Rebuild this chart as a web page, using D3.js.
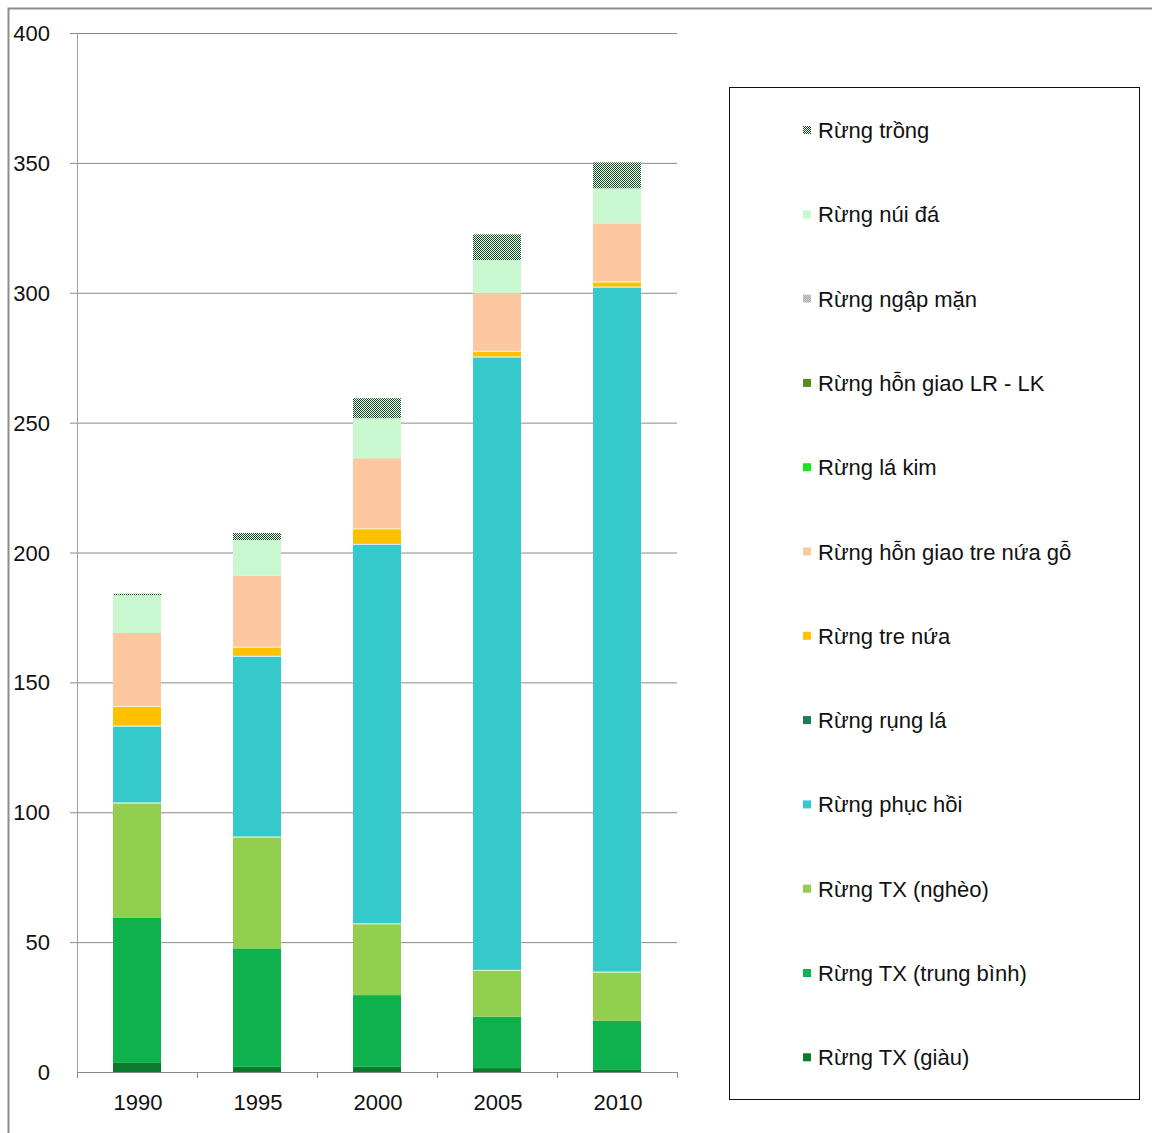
<!DOCTYPE html>
<html>
<head>
<meta charset="utf-8">
<script src="https://cdn.jsdelivr.net/npm/d3@7"></script>
<style>
  html, body { margin: 0; padding: 0; background: #fff; }
  svg { display: block; font-family: "Liberation Sans", Arial, sans-serif; }
</style>
</head>
<body>
<svg id="chart" width="1152" height="1133"></svg>
<script>
// Forest area by type (stacked), 1990–2010
const years = ["1990", "1995", "2000", "2005", "2010"];
const yTicks = [0, 50, 100, 150, 200, 250, 300, 350, 400];

// Series, listed from the bottom of each stack upward
const txGiau         = [3.5, 2.0, 2.0, 1.5, 0.8];
const txTrungBinh    = [55.8, 45.6, 27.6, 19.8, 19.0];
const txNgheo        = [44.4, 43.0, 27.6, 18.0, 18.8];
const phucHoi        = [29.6, 69.6, 146.1, 236.1, 263.7];
const rungLa         = [0, 0, 0, 0, 0];
const treNua         = [7.6, 3.5, 6.0, 2.2, 2.0];
const honGiaoTreNua  = [28.1, 27.3, 27.0, 22.2, 22.4];
const laKim          = [0, 0, 0, 0, 0];
const honGiaoLRLK    = [0, 0, 0, 0, 0];
const ngapMan        = [0, 0, 0, 0, 0];
const nuiDa          = [14.6, 13.8, 15.4, 12.8, 13.5];
const trong          = [0.5, 2.7, 7.7, 9.9, 10.0];

const seriesNames = [
  "Rừng TX (giàu)", "Rừng TX (trung bình)", "Rừng TX (nghèo)", "Rừng phục hồi",
  "Rừng rụng lá", "Rừng tre nứa", "Rừng hỗn giao tre nứa gỗ", "Rừng lá kim",
  "Rừng hỗn giao LR - LK", "Rừng ngập mặn", "Rừng núi đá", "Rừng trồng"
];
const seriesValues = [
  txGiau, txTrungBinh, txNgheo, phucHoi, rungLa, treNua,
  honGiaoTreNua, laKim, honGiaoLRLK, ngapMan, nuiDa, trong
];
const seriesColors = [
  "#0b7a2c", "#0fb14c", "#92cf4e", "#35c9cc", "#1d7a5a", "#ffc000",
  "#fdc79f", "#19e619", "#5a8a1e", "url(#checkGrey)", "#c9f7d0", "url(#checkGreen)"
];

// Build table rows for d3.stack
const rows = years.map((yr, i) => {
  const r = { year: yr };
  seriesNames.forEach((n, k) => { r[n] = seriesValues[k][i]; });
  return r;
});

const svg = d3.select("#chart");
const FONT = 22;

// Checkered fills
const defs = svg.append("defs");
function checker(id, dark) {
  const p = defs.append("pattern").attr("id", id)
    .attr("width", 2).attr("height", 2).attr("patternUnits", "userSpaceOnUse");
  p.append("rect").attr("width", 2).attr("height", 2).attr("fill", "#ffffff");
  p.append("rect").attr("width", 1).attr("height", 1).attr("fill", dark);
  p.append("rect").attr("x", 1).attr("y", 1).attr("width", 1).attr("height", 1).attr("fill", dark);
}
checker("checkGreen", "#0a4f1a");
checker("checkGrey", "#7a7a7a");

// Outer chart frame
svg.append("rect")
  .attr("x", 8.5).attr("y", 8.5).attr("width", 1160).attr("height", 1140)
  .attr("fill", "none").attr("stroke", "#8c8c8c").attr("stroke-width", 2);

const plot = { left: 77, right: 677, top: 33, bottom: 1072 };

const x = d3.scaleBand().domain(years).range([plot.left, plot.right])
  .paddingInner(0.6).paddingOuter(0.3);
const y = d3.scaleLinear().domain([0, 400]).range([plot.bottom, plot.top]);

// Gridlines and y tick marks
svg.append("g")
  .attr("transform", `translate(${plot.left},0)`)
  .call(d3.axisLeft(y).tickValues(yTicks).tickSize(-(plot.right - plot.left)).tickFormat(""))
  .call(g => g.select(".domain").remove())
  .call(g => g.selectAll("line").attr("stroke", "#8a8a8a").attr("stroke-width", 1).attr("x1", -7))
  .call(g => g.selectAll(".tick").filter(d => d === 0).remove());

// Y axis line
svg.append("line")
  .attr("x1", plot.left + 0.5).attr("x2", plot.left + 0.5)
  .attr("y1", plot.top).attr("y2", plot.bottom)
  .attr("stroke", "#a0a0a0");

// Y tick labels
svg.append("g").selectAll("text").data(yTicks).join("text")
  .attr("x", 50).attr("y", d => y(d) + 8)
  .attr("text-anchor", "end")
  .attr("font-size", FONT).attr("fill", "#111")
  .text(d => d);

// Stacked bars
const stack = d3.stack().keys(seriesNames);
const layers = stack(rows);
svg.append("g").selectAll("g").data(layers).join("g")
  .attr("fill", (d, i) => seriesColors[i])
  .selectAll("rect").data(d => d).join("rect")
  .attr("x", d => x(d.data.year))
  .attr("width", x.bandwidth())
  .attr("y", d => y(d[1]))
  .attr("height", d => Math.max(0, y(d[0]) - y(d[1])));

// Thin white separators above selected layers
const separated = ["Rừng TX (nghèo)", "Rừng phục hồi", "Rừng tre nứa"];
svg.append("g").selectAll("g").data(layers.filter(l => separated.includes(l.key))).join("g")
  .selectAll("line").data(d => d).join("line")
  .attr("x1", d => x(d.data.year)).attr("x2", d => x(d.data.year) + x.bandwidth())
  .attr("y1", d => y(d[1]) + 0.5).attr("y2", d => y(d[1]) + 0.5)
  .attr("stroke", "#ffffff").attr("stroke-opacity", 0.8).attr("stroke-width", 1);

// X axis
svg.append("g")
  .attr("transform", `translate(0,${plot.bottom})`)
  .call(d3.axisBottom(x).tickSize(0).tickFormat(""))
  .call(g => g.select(".domain").attr("stroke", "#8a8a8a").attr("d", `M${plot.left},0.5H${plot.right}`));

// Category boundary ticks
const bounds = years.map(yr => x(yr) - x.step() * 0.3).concat([plot.right]);
svg.append("g").selectAll("line").data(bounds).join("line")
  .attr("x1", d => Math.round(d) + 0.5).attr("x2", d => Math.round(d) + 0.5)
  .attr("y1", plot.bottom).attr("y2", plot.bottom + 6)
  .attr("stroke", "#8a8a8a");

// X labels
svg.append("g").selectAll("text").data(years).join("text")
  .attr("x", d => x(d) + x.bandwidth() / 2 + 1)
  .attr("y", 1110)
  .attr("text-anchor", "middle")
  .attr("font-size", FONT).attr("fill", "#111")
  .text(d => d);

// Legend
svg.append("rect")
  .attr("x", 729.5).attr("y", 87.5).attr("width", 410).attr("height", 1012)
  .attr("fill", "#fff").attr("stroke", "#111").attr("stroke-width", 1);

const legendOrder = seriesNames.map((n, i) => i).reverse();
const lg = svg.append("g").selectAll("g").data(legendOrder).join("g")
  .attr("transform", (d, j) => `translate(803,${130 + j * 84.3})`);
lg.append("rect")
  .attr("x", 0).attr("y", -4).attr("width", 8).attr("height", 8)
  .attr("fill", i => seriesColors[i]);
lg.append("text")
  .attr("x", 15).attr("y", 8)
  .attr("font-size", FONT).attr("fill", "#111")
  .text(i => seriesNames[i]);
</script>
</body>
</html>
